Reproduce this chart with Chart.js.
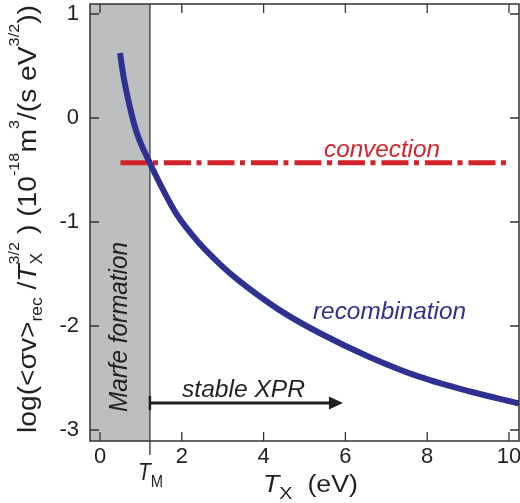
<!DOCTYPE html>
<html>
<head>
<meta charset="utf-8">
<script src="https://cdn.jsdelivr.net/npm/chart.js@4"></script>
<style>
  html, body { margin: 0; padding: 0; background: #ffffff; }
  #wrap { width: 520px; height: 503px; }
</style>
</head>
<body>
<div id="wrap"><canvas id="c" width="520" height="503"></canvas></div>
<script>
// ---- data ----
const xTicks = [0, 2, 4, 6, 8, 10];
const yTicks = [-3, -2, -1, 0, 1];
const recT = [0.49, 0.56, 0.73, 0.90, 1.22, 1.47, 1.88, 2.44, 2.93, 3.35, 4.40, 5.38, 6.60, 7.82, 9.05, 10.25];
const recY = [0.625, 0.433, 0.106, -0.144, -0.433, -0.635, -0.93, -1.21, -1.405, -1.55, -1.85, -2.07, -2.30, -2.49, -2.63, -2.745];
const convT = [0.50, 9.95];
const convY = [-0.43, -0.43];
const TM = 1.22;                 // Marfe threshold temperature
const xprT = [1.22, 5.94];       // stable XPR range
const xprLevel = -2.74;
const xRange = [-0.245, 10.245];
const yRange = [-3.106, 1.096];

const FAM = '"Liberation Sans", Arial, Helvetica, sans-serif';
const INK = '#231f20';
const BLUE = '#2e3192';
const RED = '#d2232a';
const GREY = '#bcbec0';

function drawFit(ctx, parts, x, y, angle, length, color) {
  ctx.save();
  let total = 0;
  parts.forEach(p => {
    ctx.font = p.font;
    p.w = ctx.measureText(p.text).width;
    if (!p.overlay) total += p.w;
  });
  const s = length / total;
  ctx.translate(x, y);
  ctx.rotate(angle);
  ctx.scale(s, 1);
  ctx.textBaseline = 'alphabetic';
  ctx.textAlign = 'left';
  let cx = 0;
  parts.forEach(p => {
    ctx.font = p.font;
    ctx.fillStyle = p.color || color;
    ctx.fillText(p.text, cx, p.dy || 0);
    if (!p.overlay) cx += p.w;
  });
  ctx.restore();
}

function noPad(s) {
  s.paddingTop = 0; s.paddingBottom = 0; s.paddingLeft = 0; s.paddingRight = 0;
}

const decor = {
  id: 'decor',
  beforeDatasetsDraw(chart) {
    const { ctx, chartArea: a, scales: { x } } = chart;
    const xm = x.getPixelForValue(TM);
    ctx.save();
    ctx.fillStyle = GREY;
    ctx.fillRect(a.left, a.top, xm - a.left, a.bottom - a.top);
    ctx.strokeStyle = '#4d4d4f';
    ctx.lineWidth = 1.5;
    ctx.beginPath();
    ctx.moveTo(xm, a.top);
    ctx.lineTo(xm, a.bottom + 14);
    ctx.stroke();
    ctx.restore();
  },
  afterDatasetsDraw(chart) {
    const { ctx, chartArea: a, scales: { x, y } } = chart;
    ctx.save();
    ctx.strokeStyle = '#333333';
    ctx.lineWidth = 1.5;
    ctx.strokeRect(a.left, a.top, a.right - a.left, a.bottom - a.top);
    const tl = 9;
    ctx.lineWidth = 1.3;
    ctx.beginPath();
    xTicks.forEach(v => {
      const px = x.getPixelForValue(v);
      ctx.moveTo(px, a.bottom); ctx.lineTo(px, a.bottom - tl);
      ctx.moveTo(px, a.top); ctx.lineTo(px, a.top + tl);
    });
    yTicks.forEach(v => {
      const py = y.getPixelForValue(v);
      ctx.moveTo(a.left, py); ctx.lineTo(a.left + tl, py);
      ctx.moveTo(a.right, py); ctx.lineTo(a.right - tl, py);
    });
    ctx.stroke();

    const x0 = x.getPixelForValue(xprT[0]);
    const x1 = x.getPixelForValue(xprT[1]);
    const ya = y.getPixelForValue(xprLevel);
    ctx.strokeStyle = INK;
    ctx.fillStyle = INK;
    ctx.lineWidth = 3;
    ctx.beginPath();
    ctx.moveTo(x0, ya); ctx.lineTo(x1 - 12, ya);
    ctx.stroke();
    ctx.lineWidth = 2.5;
    ctx.beginPath();
    ctx.moveTo(x0, ya - 7); ctx.lineTo(x0, ya + 7);
    ctx.stroke();
    ctx.beginPath();
    ctx.moveTo(x1, ya); ctx.lineTo(x1 - 14, ya - 6.5); ctx.lineTo(x1 - 14, ya + 6.5);
    ctx.closePath();
    ctx.fill();
    ctx.restore();

    drawFit(ctx, [{ text: 'convection', font: 'italic 23px ' + FAM }], 324, 157, 0, 116, RED);
    drawFit(ctx, [{ text: 'recombination', font: 'italic 23px ' + FAM }], 313, 319, 0, 153, BLUE);
    drawFit(ctx, [{ text: 'stable XPR', font: 'italic 23px ' + FAM }], 182, 397, 0, 123, INK);
    drawFit(ctx, [{ text: 'Marfe formation', font: 'italic 25px ' + FAM }], 127, 412, -Math.PI / 2, 170, INK);

    drawFit(ctx, [
      { text: 'T', font: 'italic 24px ' + FAM },
      { text: 'M', font: '17px ' + FAM, dy: 7 }
    ], 138, 480, 0, 25, INK);

    drawFit(ctx, [
      { text: 'T', font: 'italic 23px ' + FAM },
      { text: 'X', font: '17px ' + FAM, dy: 7 },
      { text: '  (eV)', font: '23px ' + FAM }
    ], 263, 492, 0, 95, INK);

    const M = '26px ' + FAM, SB = '16px ' + FAM, SP = '15px ' + FAM;
    drawFit(ctx, [
      { text: 'log(<σv>', font: M },
      { text: 'rec', font: SB, dy: 6 },
      { text: ' /', font: M },
      { text: 'T', font: 'italic 26px ' + FAM },
      { text: 'X', font: SB, dy: 6, overlay: true },
      { text: '3/2', font: SP, dy: -17 },
      { text: ' ) (10', font: M },
      { text: '-18', font: SP, dy: -17 },
      { text: 'm', font: M },
      { text: '3', font: SP, dy: -17 },
      { text: '/(s eV', font: M },
      { text: '3/2', font: SP, dy: -17 },
      { text: '))', font: M }
    ], 36, 433, -Math.PI / 2, 428, INK);
  }
};

const recData = recT.map((t, i) => ({ x: t, y: recY[i] }));
const convData = convT.map((t, i) => ({ x: t, y: convY[i] }));

new Chart(document.getElementById('c'), {
  type: 'scatter',
  data: {
    datasets: [
      {
        label: 'convection',
        data: convData,
        showLine: true,
        borderColor: RED,
        borderWidth: 5,
        borderDash: [27, 5.5, 5, 6],
        borderCapStyle: 'butt',
        pointRadius: 0,
        order: 2
      },
      {
        label: 'recombination',
        data: recData,
        showLine: true,
        borderColor: BLUE,
        borderWidth: 6,
        cubicInterpolationMode: 'monotone',
        borderCapStyle: 'butt',
        pointRadius: 0,
        order: 1
      }
    ]
  },
  options: {
    responsive: false,
    animation: false,
    layout: { padding: { top: 4, right: 1, left: 0, bottom: 0 } },
    plugins: { legend: { display: false }, tooltip: { enabled: false } },
    scales: {
      x: {
        type: 'linear',
        min: xRange[0], max: xRange[1],
        grid: { display: false },
        border: { display: false },
        afterBuildTicks: s => { s.ticks = xTicks.map(v => ({ value: v })); },
        afterFit: s => { s.height = 62; noPad(s); },
        ticks: { font: { family: FAM, size: 22 }, color: INK, padding: -5, maxRotation: 0 }
      },
      y: {
        type: 'linear',
        min: yRange[0], max: yRange[1],
        grid: { display: false },
        border: { display: false },
        afterBuildTicks: s => { s.ticks = yTicks.map(v => ({ value: v })); },
        afterFit: s => { s.width = 90; noPad(s); },
        ticks: { font: { family: FAM, size: 22 }, color: INK, padding: 3 }
      }
    }
  },
  plugins: [decor]
});
</script>
</body>
</html>
